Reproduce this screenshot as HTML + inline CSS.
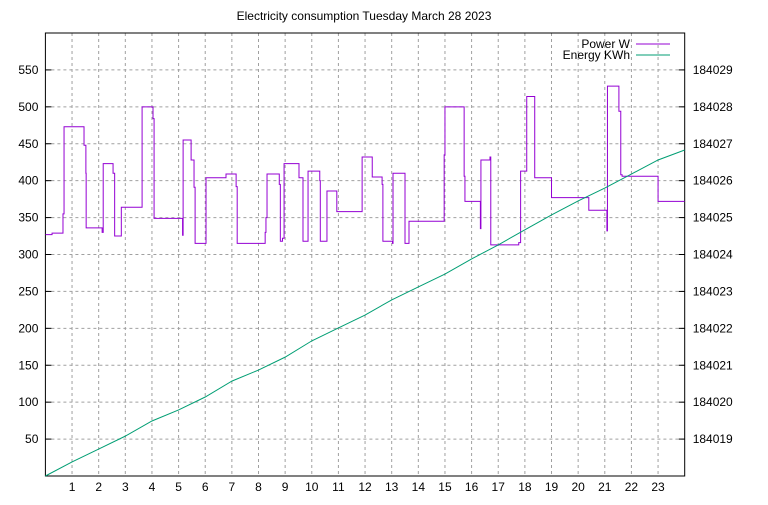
<!DOCTYPE html>
<html><head><meta charset="utf-8"><style>
body{margin:0;background:#fff}
text{font-family:"Liberation Sans",sans-serif;font-size:12px;fill:#000}
</style></head><body>
<svg id="chart" width="768" height="500" xmlns="http://www.w3.org/2000/svg">
<text x="364" y="20" text-anchor="middle" font-size="11">Electricity consumption Tuesday March 28 2023</text>
<g id="grid"></g><g id="axes"></g><g id="series"></g>
<g>
<text x="630" y="48" text-anchor="end">Power W</text>
<line x1="636" y1="44" x2="670" y2="44" stroke="#9400d3" stroke-width="1"/>
<text x="630" y="59" text-anchor="end">Energy KWh</text>
<line x1="636" y1="55" x2="670" y2="55" stroke="#009e73" stroke-width="1"/>
</g>
</svg>
<script>
const powerHours=[0,0.25,0.66,0.7,1.45,1.52,1.53,2.13,2.17,2.54,2.6,2.85,3.63,4.04,4.08,5.15,5.17,5.47,5.58,5.62,6.03,6.78,7.16,7.2,8.25,8.28,8.32,8.78,8.82,8.9,8.96,9.52,9.67,9.86,10.3,10.32,10.57,10.94,11.89,12.27,12.64,12.67,13.03,13.05,13.5,13.65,14.97,15.0,15.72,15.75,16.33,16.35,16.69,16.72,17.77,17.84,18.07,18.37,19.0,20.4,21.08,21.1,21.53,21.6,21.65,23.0];
const powerValues=[327,329,355,473,448,410,336,330,423,410,325,364,500,484,349,326,455,428,391,315,404,409,392,315,330,350,409,395,318,322,423,404,318,413,400,318,386,358,432,405,395,318,315,410,315,345,435,500,406,372,335,428,432,313,316,413,514,404,377,360,332,528,494,408,406,372];
const energyHours=[0,1,2,3,4,5,6,7,8,9,10,11,12,13,14,15,16,17,18,19,20,21,22,23,24];
const energyValues=[184018,184018.38,184018.73,184019.08,184019.49,184019.79,184020.14,184020.57,184020.87,184021.22,184021.66,184022.01,184022.36,184022.77,184023.12,184023.47,184023.88,184024.26,184024.67,184025.07,184025.45,184025.8,184026.18,184026.56,184026.83];
const leftTicks=[50,100,150,200,250,300,350,400,450,500,550];
const rightTicks=[184019,184020,184021,184022,184023,184024,184025,184026,184027,184028,184029];
const xTicks=[1,2,3,4,5,6,7,8,9,10,11,12,13,14,15,16,17,18,19,20,21,22,23];
const L=45.4,R=684.7,T=33,B=476;
const xs=h=>L+(R-L)*h/24;
const yl=v=>B-(B-T)*v/600;
const yr=v=>B-(B-T)*(v-184018)/12;
const NS="http://www.w3.org/2000/svg";
function mk(p,t,a){const e=document.createElementNS(NS,t);for(const k in a)e.setAttribute(k,a[k]);document.getElementById(p).appendChild(e);return e;}
leftTicks.forEach(v=>{
 const g=mk('grid','line',{x1:L,x2:R,y1:yl(v),y2:yl(v),stroke:'#a0a0a0','stroke-dasharray':'3,3'});
 
 
 const t=mk('axes','line',{x1:L,x2:L+6,y1:yl(v),y2:yl(v),stroke:'#000'});
 
 
 const tx=mk('axes','text',{x:L-7,y:yl(v)+4,'text-anchor':'end'});tx.textContent=v;
 
 
});
rightTicks.forEach(v=>{
 const t=mk('axes','line',{x1:R-6,x2:R,y1:yr(v),y2:yr(v),stroke:'#000'});
 
 
 const tx=mk('axes','text',{x:R+8,y:yr(v)+4});tx.textContent=v;
 
 
});
xTicks.forEach(h=>{
 const g=mk('grid','line',{x1:xs(h),x2:xs(h),y1:T,y2:B,stroke:'#a0a0a0','stroke-dasharray':'3,3'});
 
 
 const tx=mk('axes','text',{x:xs(h),y:B+15,'text-anchor':'middle'});tx.textContent=h;
 
 
});
const fr=mk('axes','rect',{x:L,y:T,width:R-L,height:B-T,fill:'none',stroke:'#000'});


let d='';
powerHours.forEach((h,i)=>{const x=xs(h),y=yl(powerValues[i]);d+=(i?'H'+x+'V'+y:'M'+x+' '+y);});
d+='H'+R;
const p=mk('series','path',{d:d,fill:'none',stroke:'#9400d3','stroke-width':1});


const e=mk('series','polyline',{points:energyHours.map((h,i)=>xs(h)+','+yr(energyValues[i])).join(' '),fill:'none',stroke:'#009e73','stroke-width':1});


</script>
</body></html>
